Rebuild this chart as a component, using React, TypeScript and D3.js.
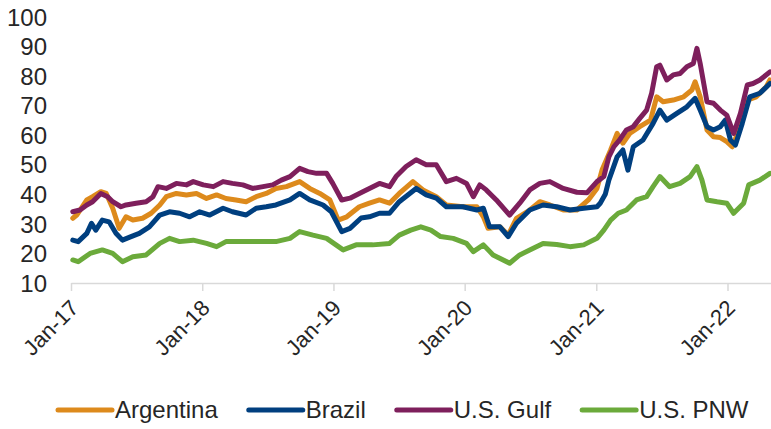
import { useEffect, useRef } from "react"
import * as d3 from "d3"

// Series labels and colours, in legend order
const seriesNames = ["Argentina", "Brazil", "U.S. Gulf", "U.S. PNW"]
const seriesColors = ["#DD8A1C", "#003F7F", "#7E1F5C", "#6BAA3B"]

const yTicks = [10, 20, 30, 40, 50, 60, 70, 80, 90, 100]

const argentinaDates = [
  "2017-01-06", "2017-01-17", "2017-02-14", "2017-03-02", "2017-03-25", "2017-04-09", "2017-04-27", "2017-05-15", "2017-06-03", "2017-06-22", "2017-07-19", "2017-08-12", "2017-09-05", "2017-09-23", "2017-10-21", "2017-11-18", "2017-12-16",
  "2018-01-13", "2018-02-10", "2018-03-08", "2018-04-05", "2018-05-03", "2018-05-31", "2018-06-28", "2018-07-25", "2018-08-23", "2018-09-29", "2018-10-27", "2018-11-24", "2018-12-22",
  "2019-01-14", "2019-02-07", "2019-03-14", "2019-04-11", "2019-05-09", "2019-06-06", "2019-07-03", "2019-08-10", "2019-09-07", "2019-10-14", "2019-11-11", "2019-12-27",
  "2020-02-04", "2020-02-22", "2020-03-06", "2020-04-08", "2020-05-01", "2020-05-24", "2020-06-30", "2020-07-28", "2020-08-25", "2020-10-01", "2020-11-08", "2020-12-10",
  "2021-01-03", "2021-01-17", "2021-02-10", "2021-02-28", "2021-03-16", "2021-04-04", "2021-05-02", "2021-06-01", "2021-06-18", "2021-07-06", "2021-08-03", "2021-09-01", "2021-09-24", "2021-10-03", "2021-10-17", "2021-11-05", "2021-11-23", "2021-12-12", "2021-12-30",
  "2022-01-14", "2022-02-06", "2022-02-25", "2022-03-22", "2022-04-19", "2022-04-29"
]
const argentinaValues = [
  31.9, 33, 38.1, 39.2, 40.9, 40.3, 35.3, 28.5, 32.4, 31.3, 31.9, 33.6, 36.4, 39.2, 40.3, 39.8, 40.3,
  38.6, 39.8, 38.6, 38.1, 37.5, 39.2, 40.3, 42, 42.6, 44.3, 42, 40.3, 38.1,
  31.3, 32.4, 35.8, 37, 38.1, 37, 40.3, 44.3, 41.5, 39.2, 36.4, 35.8,
  35.8, 32.4, 28.5, 29, 26.2, 31.9, 34.7, 37.5, 36.4, 34.7, 34.7, 38.1,
  42, 48.2, 55, 60.6, 57.3, 60.6, 62.9, 65.1, 73, 71.3, 71.9, 73, 75.3, 78.1, 73, 61.8, 59.5, 59.2, 57.8,
  56.1, 62.9, 71.9, 73, 76.4, 78.7
]

const brazilDates = [
  "2017-01-06", "2017-01-21", "2017-02-14", "2017-02-27", "2017-03-11", "2017-03-29", "2017-04-17", "2017-05-06", "2017-05-24", "2017-06-17", "2017-07-10", "2017-08-07", "2017-09-05", "2017-10-02", "2017-10-30", "2017-11-27", "2017-12-25",
  "2018-01-22", "2018-02-28", "2018-03-26", "2018-05-03", "2018-05-31", "2018-06-28", "2018-07-25", "2018-09-02", "2018-09-29", "2018-10-27", "2018-12-03", "2018-12-26",
  "2019-01-24", "2019-02-16", "2019-03-19", "2019-04-11", "2019-05-09", "2019-06-06", "2019-07-03", "2019-08-19", "2019-09-16", "2019-10-14", "2019-11-11", "2019-12-27",
  "2020-02-04", "2020-02-22", "2020-03-10", "2020-04-08", "2020-05-01", "2020-05-24", "2020-06-30", "2020-08-06", "2020-09-13", "2020-10-20", "2020-11-27",
  "2021-01-03", "2021-01-12", "2021-01-26", "2021-02-05", "2021-02-28", "2021-03-16", "2021-03-30", "2021-04-14", "2021-05-11", "2021-06-08", "2021-06-27", "2021-07-16", "2021-08-13", "2021-09-10", "2021-10-03", "2021-10-17", "2021-11-05", "2021-11-23", "2021-12-12", "2021-12-26",
  "2022-01-09", "2022-01-23", "2022-02-11", "2022-03-04", "2022-04-01", "2022-04-29"
]
const brazilValues = [
  24.5, 24, 26.8, 30.2, 27.9, 31.3, 30.7, 26.8, 24.5, 25.7, 26.8, 29, 33, 34.1, 33.6, 32.4, 34.1,
  33, 35.3, 34.1, 33, 35.3, 35.8, 36.4, 38.1, 40.3, 38.1, 36.4, 34.1,
  27.4, 28.5, 32, 32.4, 33.6, 33.6, 37.5, 42, 39.8, 38.7, 35.8, 35.8,
  34.7, 35.3, 29, 29, 25.7, 30.2, 34.7, 36.4, 35.8, 34.7, 35.3,
  35.8, 37, 40, 44.8, 52.7, 55, 48.2, 56.1, 58.4, 64, 68.5, 65.1, 67.4, 69.6, 72.5, 68.5, 62.9, 61.8, 62.9, 65.1,
  58.4, 56.7, 64, 73, 74.2, 77.5
]

const gulfDates = [
  "2017-01-06", "2017-01-26", "2017-02-14", "2017-03-02", "2017-03-25", "2017-04-13", "2017-04-27", "2017-05-20", "2017-06-03", "2017-07-01", "2017-07-29", "2017-08-17", "2017-08-31", "2017-09-23", "2017-10-21", "2017-11-18", "2017-12-07",
  "2018-01-04", "2018-02-01", "2018-02-28", "2018-03-26", "2018-04-24", "2018-05-21", "2018-06-19", "2018-07-16", "2018-08-09", "2018-09-02", "2018-09-29", "2018-10-22", "2018-11-15", "2018-12-13", "2018-12-30",
  "2019-01-24", "2019-02-16", "2019-03-14", "2019-04-11", "2019-05-09", "2019-06-06", "2019-06-24", "2019-07-22", "2019-08-19", "2019-09-16", "2019-10-14", "2019-11-11", "2019-12-09",
  "2020-01-06", "2020-01-25", "2020-02-12", "2020-03-01", "2020-03-29", "2020-05-05", "2020-06-02", "2020-06-30", "2020-07-28", "2020-08-25", "2020-10-01", "2020-11-08", "2020-12-06",
  "2021-01-03", "2021-01-22", "2021-02-05", "2021-02-19", "2021-03-07", "2021-03-26", "2021-04-14", "2021-05-02", "2021-05-21", "2021-06-04", "2021-06-18", "2021-06-27", "2021-07-16", "2021-08-03", "2021-08-22", "2021-09-10", "2021-09-28", "2021-10-08", "2021-10-17", "2021-11-05", "2021-11-23", "2021-12-12", "2021-12-30",
  "2022-01-18", "2022-02-06", "2022-02-25", "2022-03-13", "2022-04-01", "2022-04-29"
]
const gulfValues = [
  34.1, 34.7, 36.4, 37.5, 40.3, 39.2, 37.5, 35.8, 36.4, 37, 37.5, 39.2, 42.6, 42, 43.7, 43.2, 44.3,
  43.2, 42.6, 44.3, 43.7, 43.2, 42, 42.6, 43.2, 44.8, 46, 48.8, 47.7, 47.1, 47.1, 43.7,
  38.1, 38.7, 40.3, 42, 43.7, 42.6, 46, 49.4, 51.7, 50, 50, 44.3, 45.4,
  43.7, 39.2, 43.2, 41.5, 38.1, 33, 37, 41.5, 43.7, 44.3, 42, 40.7, 40.5,
  44.3, 46, 52.7, 56.1, 58.4, 61.8, 62.9, 65.7, 68.5, 74.2, 83.2, 83.7, 78.7, 80.4, 80.9, 83.2, 84.3, 89.4, 84.3, 71.3, 70.8, 68.5, 66.8,
  60.6, 67.4, 77, 77.5, 78.7, 81.4
]

const pnwDates = [
  "2017-01-06", "2017-01-21", "2017-02-23", "2017-03-29", "2017-04-27", "2017-05-24", "2017-06-22", "2017-07-29", "2017-09-05", "2017-10-02", "2017-10-30", "2017-12-07",
  "2018-01-13", "2018-02-10", "2018-03-08", "2018-07-25", "2018-09-02", "2018-09-29", "2018-11-05", "2018-12-13",
  "2019-01-28", "2019-03-05", "2019-04-20", "2019-06-06", "2019-07-03", "2019-08-04", "2019-09-01", "2019-09-29", "2019-10-26", "2019-11-30",
  "2020-01-06", "2020-01-25", "2020-02-22", "2020-03-20", "2020-05-05", "2020-06-02", "2020-06-30", "2020-08-06", "2020-09-13", "2020-10-20", "2020-11-27",
  "2021-01-03", "2021-01-22", "2021-02-10", "2021-03-03", "2021-03-26", "2021-04-23", "2021-05-21", "2021-06-08", "2021-06-27", "2021-07-24", "2021-08-22", "2021-09-19", "2021-10-08", "2021-10-22", "2021-11-05", "2021-12-03", "2021-12-30",
  "2022-01-18", "2022-02-15", "2022-03-01", "2022-04-01", "2022-04-29"
]
const pnwValues = [
  17.8, 17.2, 20, 21.2, 20, 17.2, 18.9, 19.5, 23.4, 25.1, 24, 24.5,
  23.4, 22.3, 24, 24, 25.1, 27.4, 26.2, 25.1,
  21.2, 22.9, 22.9, 23.4, 26.2, 27.9, 29, 27.9, 25.7, 25.1,
  23.4, 20.6, 22.9, 19.5, 16.7, 19.5, 21.2, 23.4, 23, 22.3, 22.9,
  25.1, 27.9, 31.3, 33.6, 34.7, 38.1, 39.2, 42.6, 46, 42.6, 43.7, 46, 49.4, 44.8, 38.1, 37.5, 37,
  33.6, 37, 43.2, 44.8, 47.1
]

const seriesDates = [argentinaDates, brazilDates, gulfDates, pnwDates]
const seriesValues = [argentinaValues, brazilValues, gulfValues, pnwValues]

const W = 771
const H = 429
const FONT = "'Liberation Sans', Arial, sans-serif"
const TEXT = "#262626"

const App = () => {
  const svgRef = useRef(null)

  useEffect(() => {
    const svg = d3.select(svgRef.current)
    svg.selectAll("*").remove()

    const parse = d3.timeParse("%Y-%m-%d")

    // plot area: Jan-17 sits at x=71, the axis runs to the right edge
    const x = d3.scaleTime()
      .domain([new Date(2017, 0, 1), new Date(2022, 4, 2)])
      .range([71, 771])
    const y = d3.scaleLinear().domain([10, 100]).range([283, 17])

    // y labels (no axis line in the original)
    svg.append("g")
      .selectAll("text")
      .data(yTicks)
      .enter()
      .append("text")
      .attr("x", 47)
      .attr("y", d => y(d))
      .attr("dy", "0.36em")
      .attr("text-anchor", "end")
      .style("font-family", FONT)
      .style("font-size", "24px")
      .style("fill", TEXT)
      .text(d => d)

    // x axis
    const xAxis = d3.axisBottom(x)
      .tickValues(d3.timeYear.range(new Date(2017, 0, 1), new Date(2022, 1, 1)))
      .tickFormat(d3.timeFormat("%b-%y"))
      .tickSize(8)
      .tickSizeOuter(0)

    const gx = svg.append("g")
      .attr("transform", `translate(0, ${y(10)})`)
      .call(xAxis)
    gx.select(".domain").attr("stroke", "#d9d9d9").attr("stroke-width", 1.5)
    gx.selectAll(".tick line").attr("stroke", "#d9d9d9").attr("stroke-width", 1.5)
    gx.selectAll(".tick text")
      .attr("x", 0)
      .attr("y", 0)
      .attr("dy", "0.35em")
      .attr("text-anchor", "end")
      .attr("transform", "translate(3, 21) rotate(-45)")
      .style("font-family", FONT)
      .style("font-size", "22px")
      .style("fill", TEXT)

    // the four lines
    const line = d3.line()
      .x(d => x(d.date))
      .y(d => y(d.value))

    seriesNames.forEach((name, i) => {
      const rows = seriesDates[i].map((dt, j) => ({ date: parse(dt), value: seriesValues[i][j] }))
      svg.append("path")
        .datum(rows)
        .attr("fill", "none")
        .attr("stroke", seriesColors[i])
        .attr("stroke-width", 5)
        .attr("stroke-linejoin", "round")
        .attr("stroke-linecap", "round")
        .attr("d", line)
    })

    // legend along the bottom
    const legendY = 410
    let lx = 58
    seriesNames.forEach((name, i) => {
      const g = svg.append("g").attr("transform", `translate(${lx}, ${legendY})`)
      g.append("line")
        .attr("x1", 0).attr("x2", 54)
        .attr("y1", 0).attr("y2", 0)
        .attr("stroke", seriesColors[i])
        .attr("stroke-width", 5)
        .attr("stroke-linecap", "round")
      const t = g.append("text")
        .attr("x", 57)
        .attr("y", 0)
        .attr("dy", "0.33em")
        .style("font-family", FONT)
        .style("font-size", "24px")
        .style("fill", TEXT)
        .text(name)
      const len = t.node().getComputedTextLength()
      lx += 57 + len + 31
    })
  }, [])

  return (
    <svg
      ref={svgRef}
      width={W}
      height={H}
      style={{ position: "absolute", left: 0, top: 0, background: "#fff" }}
    />
  )
}

export default App
